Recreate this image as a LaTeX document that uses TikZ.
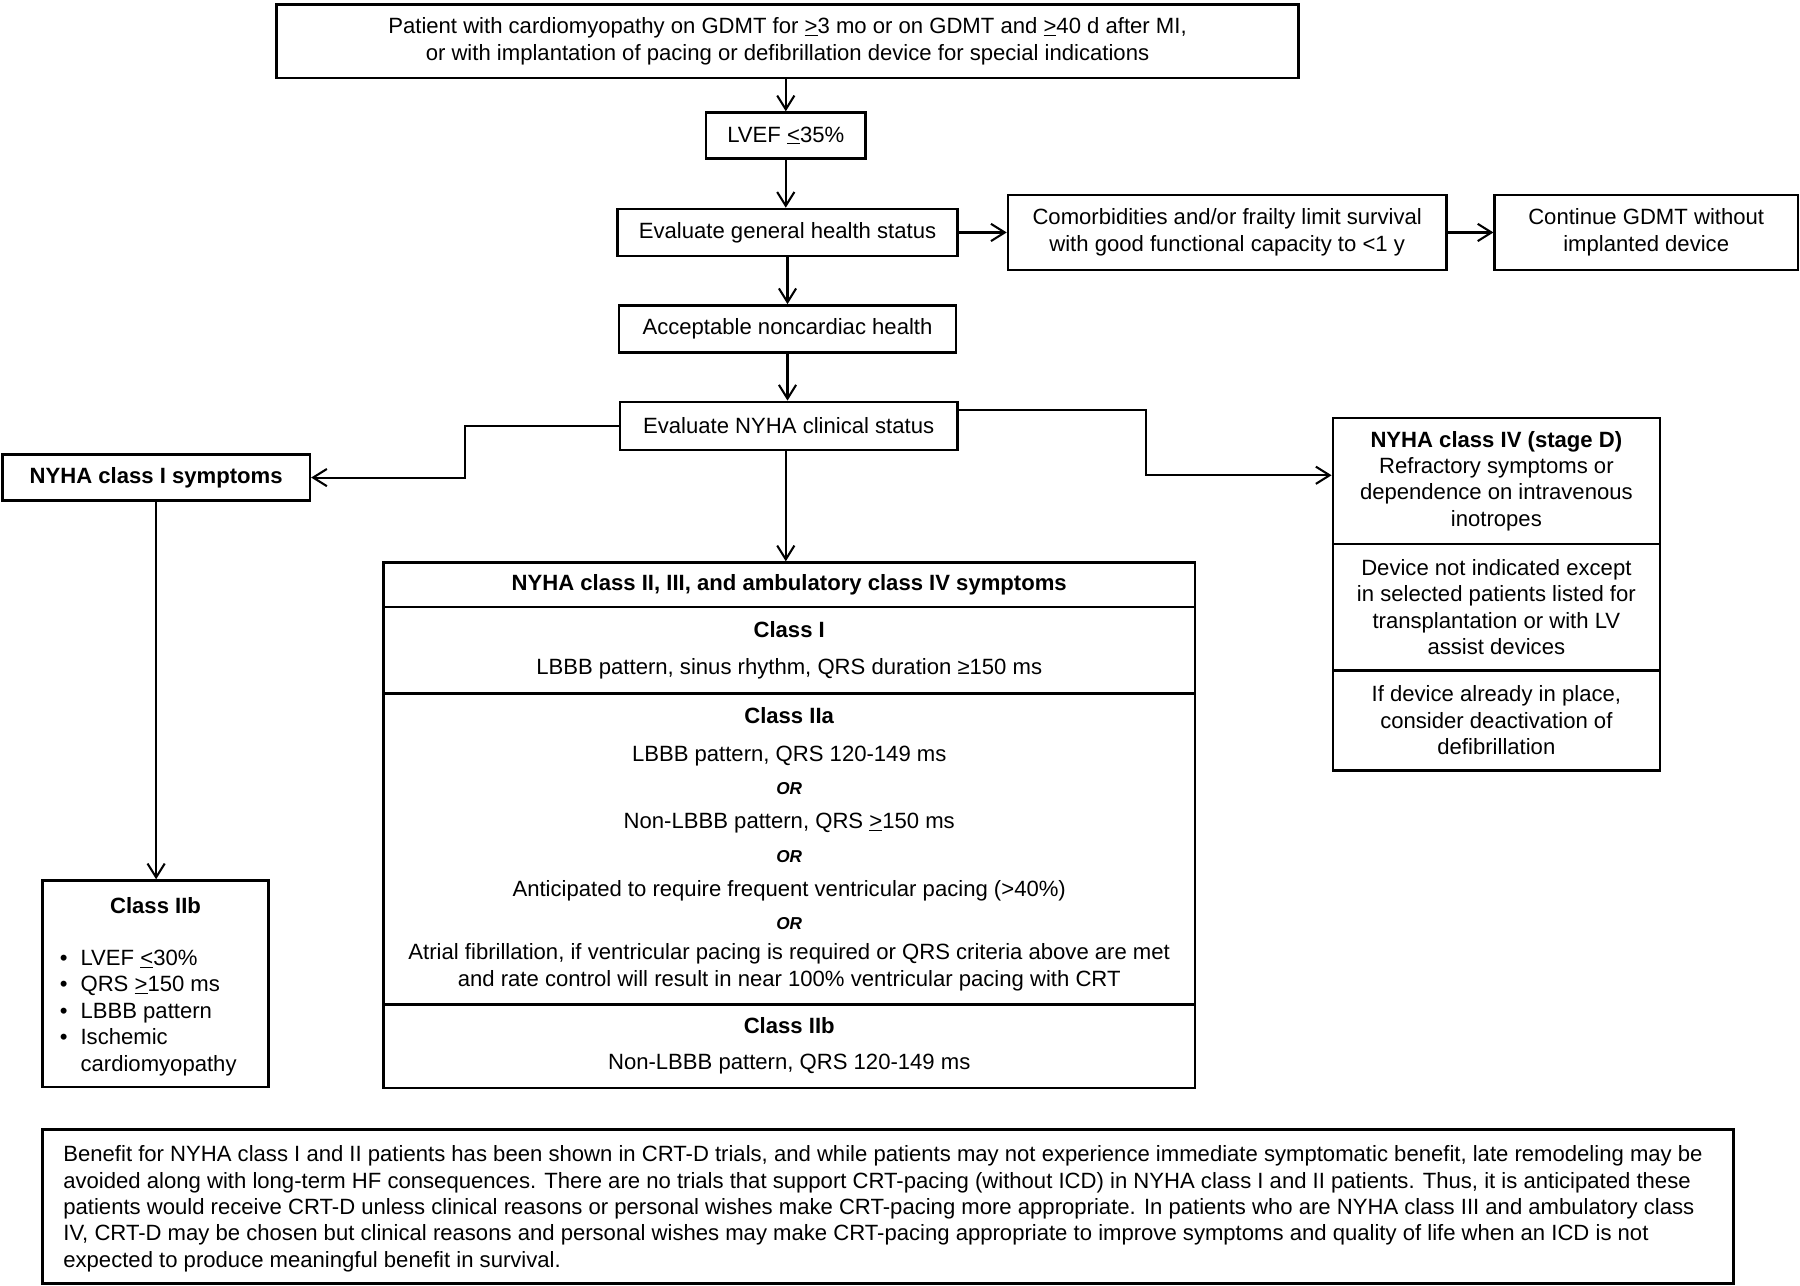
\documentclass[tikz,border=0pt]{standalone}
\usepackage{fontspec}
\setmainfont{Liberation Sans}
\usetikzlibrary{arrows.meta}
\newcommand{\mainfs}{\fontsize{19.25}{23}\selectfont}
\newcommand{\orfs}{\fontsize{15}{18}\selectfont\bfseries\itshape}
\begin{document}
\begin{tikzpicture}[x=1pt,y=-1pt,
  box/.style={draw, line width=2.1pt, inner sep=0pt, align=center, font=\mainfs},
  txt/.style={inner sep=0pt, align=left, font=\mainfs},
  arr/.style={line width=1.8pt, -{Straight Barb[length=12pt,width=15pt,line width=1.8pt]}}]
\useasboundingbox (0,0) rectangle (1568,1120);
% main column
\node[box, minimum width=890, minimum height=64] (top) at (686,36)
  {Patient with cardiomyopathy on GDMT for \underline{>}3 mo or on GDMT and \underline{>}40 d after MI,\\
   or with implantation of pacing or defibrillation device for special indications};
\node[box, minimum width=139, minimum height=40] (lvef) at (684.5,118) {LVEF \underline{<}35\%};
\node[box, minimum width=296, minimum height=41] (gen) at (686,202.5) {Evaluate general health status};
\node[box, minimum width=382, minimum height=65] (com) at (1069,202.5)
  {Comorbidities and/or frailty limit survival\\with good functional capacity to <1 y};
\node[box, minimum width=264, minimum height=65] (cont) at (1434,202.5)
  {Continue GDMT without\\implanted device};
\node[box, minimum width=294, minimum height=41] (acc) at (686,286.5) {Acceptable noncardiac health};
\node[box, minimum width=294, minimum height=42] (nyha) at (687,371) {Evaluate NYHA clinical status};
% left branch
\node[box, minimum width=268, minimum height=40, font=\mainfs\bfseries] (n1) at (136,416) {NYHA class I symptoms};
\node[box, minimum width=197, minimum height=180] (c2l) at (135.5,857) {};
\node[inner sep=0pt, font=\mainfs\bfseries] (c2lh) at (135.5,789) {Class IIb};
\node[txt, anchor=base west] (c2lt) at (52,933)
  {\makebox[18pt][l]{\textbullet}LVEF \underline{<}30\%\\
   \makebox[18pt][l]{\textbullet}QRS \underline{>}150 ms\\
   \makebox[18pt][l]{\textbullet}LBBB pattern\\
   \makebox[18pt][l]{\textbullet}Ischemic\\
   \makebox[18pt][l]{}cardiomyopathy};
% middle big box
\node[box, minimum width=707, minimum height=39, font=\mainfs\bfseries] (hdr) at (687.5,509.5)
  {NYHA class II, III, and ambulatory class IV symptoms};
\node[box, minimum width=707, minimum height=75] (c1) at (687.5,566.5)
  {\textbf{Class I}\\[9pt] LBBB pattern, sinus rhythm, QRS duration ≥150 ms};
\node[box, minimum width=707, minimum height=271] (c2a) at (687.5,739.5)
  {\textbf{Class IIa}\\[10pt]
   LBBB pattern, QRS 120-149 ms\\[6pt]
   {\orfs OR}\\[7pt]
   Non-LBBB pattern, QRS \underline{>}150 ms\\[6pt]
   {\orfs OR}\\[7pt]
   Anticipated to require frequent ventricular pacing (>40\%)\\[6pt]
   {\orfs OR}\\[3pt]
   Atrial fibrillation, if ventricular pacing is required or QRS criteria above are met\\
   and rate control will result in near 100\% ventricular pacing with CRT};
\node[box, minimum width=707, minimum height=73] (c2b) at (687.5,911)
  {\textbf{Class IIb}\\[9pt] Non-LBBB pattern, QRS 120-149 ms};
% right branch
\node[box, minimum width=285, minimum height=110] (s1) at (1303.5,419)
  {\textbf{NYHA class IV (stage D)}\\Refractory symptoms or\\dependence on intravenous\\inotropes};
\node[box, minimum width=285, minimum height=110] (s2) at (1303.5,529)
  {Device not indicated except\\in selected patients listed for\\transplantation or with LV\\assist devices};
\node[box, minimum width=285, minimum height=87] (s3) at (1303.5,627.5)
  {If device already in place,\\consider deactivation of\\defibrillation};
% bottom note
\node[box, minimum width=1473, minimum height=134] (note) at (773.5,1051) {};
\node[txt, anchor=west] (notetxt) at (55,1053)
  {Benefit for NYHA class I and II patients has been shown in CRT-D trials, and while patients may not experience immediate symptomatic benefit, late remodeling may be\\
   avoided along with long-term HF consequences. There are no trials that support CRT-pacing (without ICD) in NYHA class I and II patients. Thus, it is anticipated these\\
   patients would receive CRT-D unless clinical reasons or personal wishes make CRT-pacing more appropriate. In patients who are NYHA class III and ambulatory class\\
   IV, CRT-D may be chosen but clinical reasons and personal wishes may make CRT-pacing appropriate to improve symptoms and quality of life when an ICD is not\\
   expected to produce meaningful benefit in survival.};
% connectors
\coordinate (jl) at (405,416);
\coordinate (jr) at (998,357);
\draw[arr] (top.south -| lvef.north) -- (lvef.north);
\draw[arr] (lvef.south) -- (lvef.south |- gen.north);
\draw[arr] (gen.east) -- (com.west);
\draw[arr] (com.east) -- (cont.west);
\draw[arr] (gen.south) -- (acc.north);
\draw[arr] (acc.south) -- (acc.south |- nyha.north);
\draw[arr] (nyha.south -| lvef.south) -- (lvef.south |- hdr.north);
\draw[arr] (nyha.west) -- (nyha.west -| jl) |- (n1.east);
\draw[arr] (nyha.east |- jr) -- (jr) |- ([yshift=5pt]s1.west);
\draw[arr] (n1.south) -- (n1.south |- c2l.north);
\end{tikzpicture}
\end{document}
